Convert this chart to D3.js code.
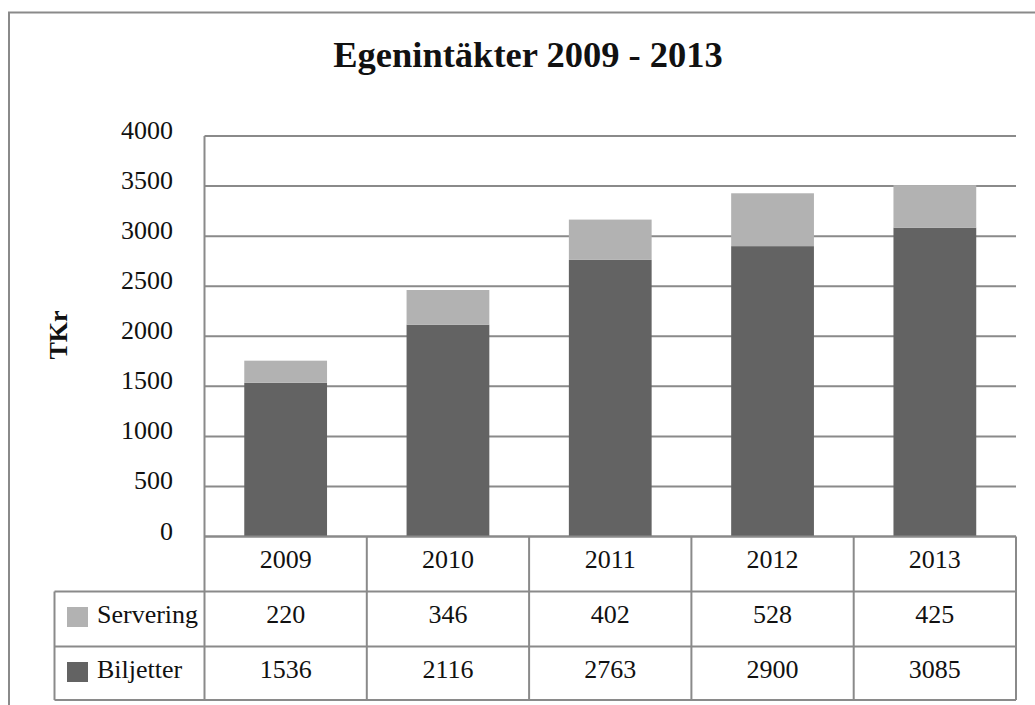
<!DOCTYPE html>
<html>
<head>
<meta charset="utf-8">
<script src="https://cdn.jsdelivr.net/npm/d3@7"></script>
<style>
  html, body { margin: 0; padding: 0; background: #fff; }
  svg text { font-family: "Liberation Serif", "Times New Roman", serif; fill: #111; }
</style>
</head>
<body>
<div id="chart"></div>
<script>
// 数据
const years = ["2009", "2010", "2011", "2012", "2013"];
const servering = [220, 346, 402, 528, 425];
const biljetter = [1536, 2116, 2763, 2900, 3085];
const yTicks = [0, 500, 1000, 1500, 2000, 2500, 3000, 3500, 4000];
const seriesNames = ["Servering", "Biljetter"];
const seriesColors = ["#b2b2b2", "#636363"];

const width = 1035, height = 705;
const svg = d3.select("#chart").append("svg")
    .attr("width", width).attr("height", height);

const gridColor = "#8a8a8a";

// 外框
svg.append("rect")
    .attr("x", 9).attr("y", 12.5)
    .attr("width", 1200).attr("height", 900)
    .attr("fill", "none").attr("stroke", gridColor).attr("stroke-width", 2);

// 标题
svg.append("text")
    .attr("x", 528).attr("y", 67)
    .attr("text-anchor", "middle")
    .attr("font-size", 36.5).attr("font-weight", "bold")
    .text("Egenintäkter 2009 - 2013");

const plotLeft = 204.5, plotRight = 1016, plotTop = 136, plotBottom = 536.5;

const x = d3.scaleBand().domain(years).range([plotLeft, plotRight])
    .paddingInner(0.49).paddingOuter(0.245);
const y = d3.scaleLinear().domain([0, 4000]).range([plotBottom, plotTop]);

// 网格线
svg.append("g").selectAll("line")
    .data(yTicks)
    .enter().append("line")
    .attr("x1", plotLeft).attr("x2", plotRight)
    .attr("y1", d => y(d)).attr("y2", d => y(d))
    .attr("stroke", gridColor).attr("stroke-width", 2);

// y轴刻度
svg.append("g").selectAll("text")
    .data(yTicks)
    .enter().append("text")
    .attr("x", 173).attr("y", d => y(d) + 3)
    .attr("text-anchor", "end")
    .attr("font-size", 26)
    .text(d => d);

// y轴标题
svg.append("text")
    .attr("transform", "translate(67,335) rotate(-90)")
    .attr("text-anchor", "middle")
    .attr("font-size", 26).attr("font-weight", "bold")
    .text("TKr");

// 堆叠柱
const rows = years.map((yr, i) => ({ year: yr, Biljetter: biljetter[i], Servering: servering[i] }));
const stack = d3.stack().keys(["Biljetter", "Servering"])(rows);
const colorOf = { Servering: seriesColors[0], Biljetter: seriesColors[1] };

svg.append("g").selectAll("g")
    .data(stack)
    .enter().append("g")
    .attr("fill", d => colorOf[d.key])
    .selectAll("rect")
    .data(d => d)
    .enter().append("rect")
    .attr("x", d => x(d.data.year))
    .attr("width", x.bandwidth())
    .attr("y", d => y(d[1]))
    .attr("height", d => y(d[0]) - y(d[1]));

// 数据表
const step = x.step();
const rowH = [plotBottom, 591.5, 646.5, 700];
const tableLeft = 54.5;
const tbl = svg.append("g")
    .attr("stroke", gridColor).attr("stroke-width", 2).attr("fill", "none");

// y轴竖线
tbl.append("line").attr("x1", plotLeft).attr("x2", plotLeft).attr("y1", plotTop).attr("y2", rowH[3]);
// 横线
tbl.append("line").attr("x1", plotLeft).attr("x2", plotRight).attr("y1", rowH[0]).attr("y2", rowH[0]);
[1, 2, 3].forEach(k => {
    tbl.append("line").attr("x1", tableLeft).attr("x2", plotRight).attr("y1", rowH[k]).attr("y2", rowH[k]);
});
tbl.append("line").attr("x1", tableLeft).attr("x2", tableLeft).attr("y1", rowH[1]).attr("y2", rowH[3]);
// 竖线
years.forEach((yr, i) => {
    const xx = plotLeft + step * (i + 1);
    tbl.append("line").attr("x1", xx).attr("x2", xx).attr("y1", rowH[0]).attr("y2", rowH[3]);
});

// 年份
svg.append("g").selectAll("text")
    .data(years)
    .enter().append("text")
    .attr("x", (d, i) => plotLeft + step * (i + 0.5))
    .attr("y", 568)
    .attr("text-anchor", "middle")
    .attr("font-size", 26)
    .text(d => d);

// 系列数值
const seriesValues = [servering, biljetter];
const baselines = [623, 678];
seriesValues.forEach((vals, r) => {
    svg.append("g").selectAll("text")
        .data(vals)
        .enter().append("text")
        .attr("x", (d, i) => plotLeft + step * (i + 0.5))
        .attr("y", baselines[r])
        .attr("text-anchor", "middle")
        .attr("font-size", 26)
        .text(d => d);

    svg.append("rect")
        .attr("x", 67).attr("y", baselines[r] - 16)
        .attr("width", 21).attr("height", 20)
        .attr("fill", seriesColors[r]);

    svg.append("text")
        .attr("x", 97).attr("y", baselines[r])
        .attr("font-size", 26)
        .text(seriesNames[r]);
});
</script>
</body>
</html>
